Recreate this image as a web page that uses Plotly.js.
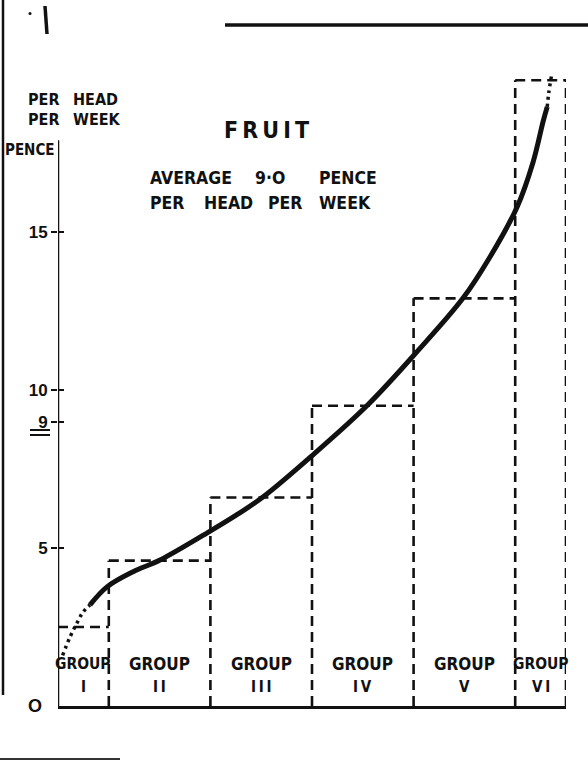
<!DOCTYPE html>
<html>
<head>
<meta charset="utf-8">
<script src="https://cdn.plot.ly/plotly-3.0.1.min.js"></script>
<style>
html,body{margin:0;padding:0;background:#fff;}
#chart{width:588px;height:761px;}
</style>
</head>
<body>
<div id="chart"></div>
<script>
// ---- data ----
const groups = ['I', 'II', 'III', 'IV', 'V', 'VI'];
const groupWord = 'GROUP';
const popShare = [10, 20, 20, 20, 20, 10];             // % of population in each group
const pencePerHead = [2.5, 4.6, 6.6, 9.5, 12.9, 19.8]; // pence per head per week
const average = 9.0;

// smoothed curve (solid part)
const curveX = [6.3, 9.65, 14.8, 20.1, 29.7, 35.0, 40.4, 50.2, 60.8, 70.6, 79.7, 85.0, 90.4, 93.5, 95.5, 96.3];
const curveY = [3.2, 3.77, 4.25, 4.62, 5.51, 6.03, 6.62, 7.95, 9.5, 11.2, 12.9, 14.2, 15.8, 17.2, 18.5, 18.96];
// dotted extrapolations
const lowDotX = [0.9, 2.36, 3.74, 4.92, 6.3];
const lowDotY = [1.6, 2.18, 2.63, 2.97, 3.2];
const highDotX = [96.3, 96.6, 97.2];
const highDotY = [18.96, 19.4, 20.0];

const yTickVals = [5, 9, 10, 15];
const yTickText = ['5', '9', '10', '15'];

// ---- build dashed step outline from the arrays ----
const edges = [0];
popShare.forEach(w => edges.push(edges[edges.length - 1] + w));
const centers = popShare.map((w, i) => edges[i] + w / 2);

const outX = [], outY = [];
pencePerHead.forEach((h, i) => {
  outX.push(edges[i], edges[i + 1], null);
  outY.push(h, h, null);
});
for (let j = 1; j < edges.length; j++) {
  const hl = pencePerHead[j - 1];
  const hr = j < pencePerHead.length ? pencePerHead[j] : 0;
  outX.push(edges[j], edges[j], null);
  outY.push(0, Math.max(hl, hr), null);
}

// ---- geometry helpers (pixels -> paper) ----
const L = 58, R = 566, T = 40, B = 706;
const Y_TOP = (B - T) / 31.6;
const px = x => (x - L) / (R - L);
const py = y => (B - y) / (B - T);

const NARROW = '"DejaVu Sans Condensed", "Liberation Sans", sans-serif';
const WIDE = '"Liberation Sans", Arial, sans-serif';
const ink = '#111';

const traces = [
  {
    x: outX, y: outY, mode: 'lines', type: 'scatter',
    line: {color: ink, width: 2.6, dash: '10px,6px'},
    hoverinfo: 'skip', connectgaps: false
  },
  {
    x: curveX, y: curveY, mode: 'lines', type: 'scatter',
    line: {color: ink, width: 5, shape: 'spline', smoothing: 1}
  },
  {
    x: lowDotX, y: lowDotY, mode: 'lines', type: 'scatter',
    line: {color: ink, width: 3.5, dash: '3px,4px', shape: 'spline'}
  },
  {
    x: highDotX, y: highDotY, mode: 'lines', type: 'scatter',
    line: {color: ink, width: 3.5, dash: '3px,4px', shape: 'spline'}
  },
  {
    x: [0], y: [0], yaxis: 'y2', mode: 'markers', marker: {opacity: 0}, hoverinfo: 'skip'
  }
];

const annotations = [];
groups.forEach((g, i) => {
  const narrow = popShare[i] < 15;
  annotations.push({
    x: centers[i], y: 1.34, xref: 'x', yref: 'y', text: groupWord, showarrow: false,
    font: {family: NARROW, size: narrow ? 15.5 : 17, weight: 'bold', color: ink}
  });
  annotations.push({
    x: centers[i], y: 0.6, xref: 'x', yref: 'y', text: g.split('').join('&#8201;'), showarrow: false,
    font: {family: NARROW, size: 15, weight: 'bold', color: ink}
  });
});

function txt(text, x, y, size, anchor, family) {
  annotations.push({
    x: px(x), y: py(y), xref: 'paper', yref: 'paper', text: text, showarrow: false,
    xanchor: anchor || 'center', yanchor: 'middle',
    font: {family: family || NARROW, size: size, weight: 'bold', color: ink}
  });
}
txt('PER', 26, 100, 16, 'left');
txt('HEAD', 71, 100, 16, 'left');
txt('PER', 26, 119, 16, 'left');
txt('WEEK', 71, 119, 16, 'left');
txt('PENCE', 3, 150, 15, 'left');
txt('F&#8201;R&#8201;U&#8201;I&#8201;T', 266, 130, 23);
txt('AVERAGE', 148, 178, 17.5, 'left');
txt(average.toFixed(1).replace('.', '·').replace(/0$/, 'O'), 253, 178, 17.5, 'left');
txt('PENCE', 317, 178, 17.5, 'left');
txt('PER', 148, 203, 17.5, 'left');
txt('HEAD', 202, 203, 17.5, 'left');
txt('PER', 266, 203, 17.5, 'left');
txt('WEEK', 317, 203, 17.5, 'left');
txt('O', 35, 706, 18, 'center', WIDE);

const ul = `M${px(30)},${py(430)} L${px(50)},${py(430)} M${px(30)},${py(435)} L${px(50)},${py(435)}`;

const shapes = [
  {type: 'line', xref: 'x', yref: 'y', x0: 0, x1: 0, y0: 0, y1: 17.9, line: {color: ink, width: 2.5}},
  // double underline of the 9 tick (the average)
  {type: 'path', xref: 'paper', yref: 'paper', path: ul, line: {color: ink, width: 1.8}},
  // scan border marks
  {type: 'line', xref: 'paper', yref: 'paper', x0: px(3), x1: px(3), y0: py(0), y1: py(695), line: {color: ink, width: 2.5}},
  {type: 'line', xref: 'paper', yref: 'paper', x0: px(225), x1: px(588), y0: py(25), y1: py(25), line: {color: ink, width: 3.5}},
  {type: 'line', xref: 'paper', yref: 'paper', x0: px(0), x1: px(120), y0: py(759), y1: py(759), line: {color: '#333', width: 2}},
  {type: 'line', xref: 'paper', yref: 'paper', x0: px(45), x1: px(47), y0: py(6), y1: py(34), line: {color: ink, width: 3.5}},
  {type: 'circle', xref: 'paper', yref: 'paper', x0: px(28.5), x1: px(31.5), y0: py(12), y1: py(15), fillcolor: ink, line: {width: 0}}
];

const layout = {
  width: 588, height: 761,
  margin: {l: L, r: 588 - R, t: T, b: 761 - B, pad: 0},
  paper_bgcolor: '#fff', plot_bgcolor: 'rgba(0,0,0,0)',
  showlegend: false,
  xaxis: {
    range: [0, 100], showgrid: false, zeroline: false, showticklabels: false, ticks: '',
    showline: true, linecolor: ink, linewidth: 2.5, fixedrange: true
  },
  yaxis: {
    range: [0, Y_TOP], showgrid: false, zeroline: false, showline: false,
    tickmode: 'array', tickvals: yTickVals, ticktext: yTickText,
    ticks: 'outside', ticklen: 6, tickwidth: 2, tickcolor: ink,
    tickfont: {family: WIDE, size: 17, weight: 'bold', color: ink}, fixedrange: true
  },
  yaxis2: {
    range: [0, Y_TOP], overlaying: 'y', side: 'left', anchor: 'x',
    showgrid: false, zeroline: false, showline: false, showticklabels: false,
    tickmode: 'array', tickvals: yTickVals,
    ticks: 'inside', ticklen: 6, tickwidth: 2, tickcolor: ink, fixedrange: true
  },
  annotations: annotations,
  shapes: shapes
};

Plotly.newPlot('chart', traces, layout, {displayModeBar: false, staticPlot: true});
</script>
</body>
</html>
